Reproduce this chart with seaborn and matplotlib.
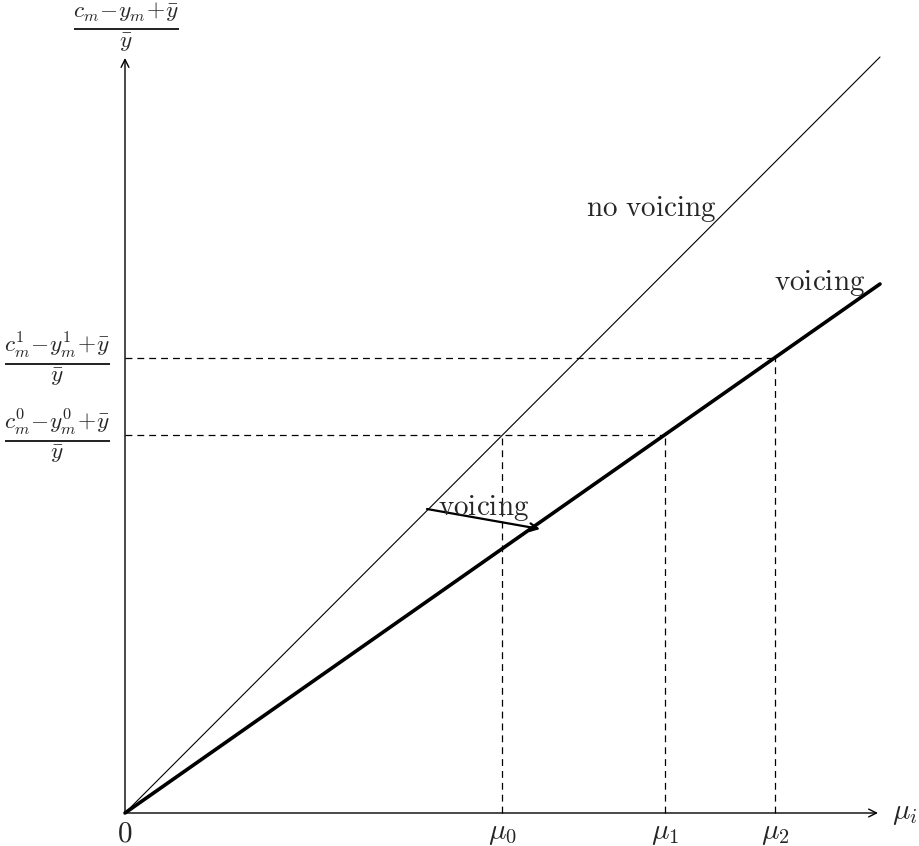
import matplotlib
matplotlib.use("Agg")
import matplotlib.pyplot as plt
import seaborn as sns

sns.set_style("white")
plt.rcParams["mathtext.fontset"] = "cm"
plt.rcParams["font.family"] = ["DejaVu Serif"]

# ---------------------------------------------------------------------------
# Data (diagram units, origin at 0)
# ---------------------------------------------------------------------------
no_voicing_x = [0.0, 7.55]
no_voicing_y = [0.0, 7.56]
voicing_x = [0.0, 7.55]
voicing_y = [0.0, 5.29]

mu_labels = [r"$\mu_0$", r"$\mu_1$", r"$\mu_2$"]
mu_values = [3.77, 5.40, 6.50]
mu_tops = [3.78, 3.78, 4.55]

level_labels = [r"$\frac{c_m^0\!-\!y_m^0\!+\!\bar{y}}{\bar{y}}$",
                r"$\frac{c_m^1\!-\!y_m^1\!+\!\bar{y}}{\bar{y}}$"]
level_values = [3.78, 4.55]
level_ends = [5.40, 6.50]

axis_x_end = 7.53
axis_y_end = 7.55
shift_start = (3.02, 3.04)
shift_end = (4.15, 2.84)

FS = 21
FRAC_FS = 24
dash = (0, (5.5, 4))

fig = plt.figure(figsize=(9.2, 8.46), dpi=100)
ax = fig.add_axes([0, 0, 1, 1])
ax.set_xlim(-1.25, 7.95)
ax.set_ylim(-0.33, 8.13)
ax.axis("off")

# --- axes arrows ---
arrow_kw = dict(arrowstyle="->", lw=1.0, color="black", mutation_scale=14, shrinkA=0, shrinkB=0)
ax.annotate("", xy=(axis_x_end, 0), xytext=(0, 0), arrowprops=arrow_kw)
ax.annotate("", xy=(0, axis_y_end), xytext=(0, 0), arrowprops=arrow_kw)

# --- dashed guides ---
for lv, end in zip(level_values, level_ends):
    ax.plot([0, end], [lv, lv], color="black", lw=0.9, ls=dash)
for mv, top in zip(mu_values, mu_tops):
    ax.plot([mv, mv], [0, top], color="black", lw=0.9, ls=dash)

# --- the two lines ---
sns.lineplot(x=no_voicing_x, y=no_voicing_y, ax=ax, color="black", lw=0.8)
sns.lineplot(x=voicing_x, y=voicing_y, ax=ax, color="black", lw=2.6)

# --- shift arrow ---
ax.annotate("", xy=shift_end, xytext=shift_start,
            arrowprops=dict(arrowstyle="->", lw=1.6, color="black", mutation_scale=14,
                            shrinkA=0, shrinkB=0))

# --- labels ---
ax.text(0, -0.06, r"$0$", fontsize=FS, ha="center", va="top")
for lab, mv in zip(mu_labels, mu_values):
    ax.text(mv, -0.06, lab, fontsize=FS, ha="center", va="top")
ax.text(7.67, 0, r"$\mu_i$", fontsize=FS, ha="left", va="center")

ax.text(0.01, 7.86, r"$\frac{c_m\!-\!y_m\!+\!\bar{y}}{\bar{y}}$", fontsize=FRAC_FS,
        ha="center", va="center")
for lab, lv in zip(level_labels, level_values):
    ax.text(-0.68, lv, lab, fontsize=FRAC_FS, ha="center", va="center")

ax.text(5.92, 5.97, r"$\mathrm{no\ voicing}$", fontsize=FS, ha="right", va="baseline")
ax.text(7.40, 5.23, r"$\mathrm{voicing}$", fontsize=FS, ha="right", va="baseline")
ax.text(3.13, 2.98, r"$\mathrm{voicing}$", fontsize=FS, ha="left", va="baseline")

fig.savefig("out.png", dpi=100)
